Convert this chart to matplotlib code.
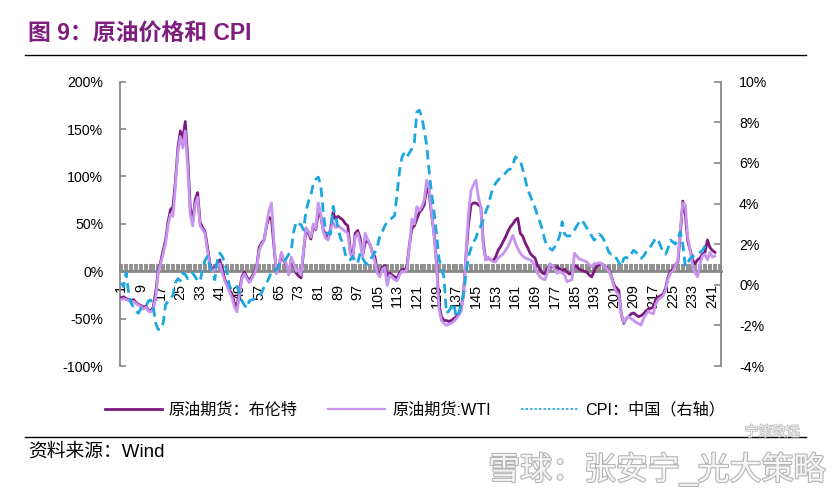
import numpy as np
import matplotlib
matplotlib.use('Agg')
import matplotlib.pyplot as plt
from matplotlib.lines import Line2D
import matplotlib.patheffects as pe

# ---------------- data ----------------
brent = [
    -28, -27, -29, -30, -31, -30, -33, -35, -36, -38,
    -37, -41, -42, -38, -22, 0, 10, 22, 33, 52,
    65, 68, 95, 130, 148, 140, 158, 120, 68, 52,
    75, 83, 52, 46, 42, 26, 8, 2, 4, 8,
    12, 3, -8, -14, -20, -24, -34, -38, -20, -6,
    -1, -6, -10, -6, -1, 5, 25, 30, 33, 48,
    57, 55, 26, -2, 5, 17, 11, 7, -3, 12,
    6, -2, -5, -7, 20, 44, 40, 34, 48, 44,
    62, 58, 44, 38, 35, 45, 62, 55, 58, 56,
    54, 50, 48, 22, 15, 40, 43, 35, 17, 30,
    32, 28, 20, 15, 0, -3, 4, 6, -5, -2,
    -4, -6, -7, -2, 2, 1, 5, 28, 45, 48,
    55, 62, 65, 70, 88, 82, 60, 40, 10, -35,
    -48, -52, -52, -53, -52, -50, -48, -45, -40, -22,
    18, 50, 70, 72, 72, 70, 68, 30, 12, 14,
    12, 11, 15, 22, 26, 31, 36, 42, 47, 50,
    54, 56, 40, 37, 30, 25, 19, 16, 14, 6,
    2, -2, -3, 3, 7, 5, 3, 5, 2, 1,
    2, -1, -3, -2, 6, 5, 2, 1, 0, -1,
    -4, -6, 0, 5, 7, 8, 6, 4, 1, -5,
    -14, -18, -20, -45, -55, -50, -48, -45, -44, -46,
    -48, -47, -45, -42, -40, -39, -38, -30, -27, -26,
    -24, -18, -6, 0, 2, 7, 10, 40, 74, 60,
    32, 22, 12, 8, 12, 14, 18, 20, 33, 25,
    22, 20,
]
wti = [
    -30, -29, -30, -31, -32, -32, -34, -36, -37, -40,
    -38, -42, -43, -40, -28, -2, 8, 18, 30, 48,
    60, 58, 90, 125, 142, 130, 148, 110, 60, 48,
    70, 78, 48, 44, 40, 22, 6, 0, 2, 6,
    8, -2, -10, -16, -22, -28, -38, -43, -25, -8,
    -3, -8, -12, -8, -3, 4, 22, 28, 32, 50,
    64, 72, 30, -2, 6, 20, 12, 8, -4, 15,
    8, 0, 2, -4, 22, 46, 42, 36, 50, 45,
    72, 60, 42, 35, 33, 44, 52, 46, 48, 46,
    44, 42, 40, 18, 15, 36, 40, 30, 15, 40,
    34, 28, 19, 10, -2, -6, 2, 4, -15, -4,
    -6, -9, -10, -4, 0, -1, 2, 26, 55, 50,
    68, 64, 68, 75, 96, 88, 62, 38, 5, -40,
    -52, -55, -57, -56, -55, -53, -50, -47, -42, -25,
    20, 62, 85, 91, 96, 78, 68, 26, 12, 15,
    12, 10, 10, 14, 16, 18, 22, 26, 32, 38,
    30, 24, 19, 16, 14, 13, 12, 10, 4, -2,
    -6, -8, -9, -2, 8, 6, 2, -2, 0, -2,
    -4, -11, -10, -9, 19, 16, 13, 12, 11, 10,
    7, 5, 8, 8, 9, 8, 6, 3, 0, -6,
    -16, -22, -25, -45, -54, -50, -48, -50, -52, -54,
    -55, -57, -50, -46, -42, -44, -45, -35, -30, -28,
    -26, -20, -8, -2, 0, 6, 12, 45, 72, 70,
    36, 22, 5, -2, -6, 8, 16, 18, 12, 20,
    15, 16,
]
cpi = [
    0.1, -0.1, 0.6, -0.4, -0.9, -1.1, -1.3, -1.4, -1.15, -1.1,
    -1.07, -0.8, -0.75, -1.1, -1.9, -2.2, -2.2, -1.9, -1.0, -0.8,
    -0.7, -0.5, 0.1, 0.3, 0.2, 0.57, 0.5, 0.3, 0.4, 0.57,
    0.4, 0.2, 0.16, 0.74, 1.2, 1.4, 0.9, 0.6, 0.25, 1.2,
    1.56, 1.4, 1.1, 0.57, -0.08, -0.25, -0.15, -0.08, -0.4, -0.8,
    -1.0, -1.15, -0.8, -0.74, -0.7, -0.57, -0.5, -0.4, -0.1, 0.1,
    0.33, 0.66, 0.7, 0.74, 1.0, 1.0, 1.07, 1.3, 1.5, 1.7,
    2.6, 3.1, 3.0, 2.96, 2.7, 3.6, 4.1, 4.4, 5.0, 5.2,
    5.3, 4.9, 3.6, 2.6, 2.5, 2.5, 3.86, 3.4, 2.8, 2.3,
    2.05, 1.5, 1.23, 1.23, 1.4, 1.1, 1.07, 1.56, 1.3, 1.1,
    1.0, 1.23, 1.4, 1.6, 1.9, 2.4, 2.6, 2.9, 3.1, 3.2,
    3.3, 3.4, 4.5, 5.6, 6.3, 6.5, 6.3, 6.5, 6.7, 7.0,
    8.5, 8.6, 8.3, 7.6, 6.9, 5.6, 4.5, 3.6, 2.5, 1.3,
    0.8, 0.4, -1.4, -1.3, -1.1, -0.9, -1.6, -1.4, -1.0, -0.5,
    0.6, 1.4, 1.8, 2.1, 2.3, 2.7, 2.9, 3.2, 3.6, 3.9,
    4.4, 4.8, 5.0, 5.15, 5.3, 5.4, 5.5, 5.65, 5.7, 5.9,
    6.3, 6.2, 6.1, 5.7, 5.2, 4.7, 4.4, 4.1, 3.8, 3.4,
    3.1, 2.7, 2.2, 1.9, 1.8, 1.7, 1.87, 2.1, 2.4, 3.1,
    2.5, 2.4, 2.4, 2.5, 2.7, 2.9, 3.1, 3.2, 3.0, 2.8,
    2.6, 2.4, 2.2, 2.3, 2.5, 2.4, 2.2, 1.9, 1.6, 1.5,
    1.5, 1.3, 1.1, 0.9, 1.3, 1.35, 1.3, 1.5, 1.7, 1.6,
    1.5, 1.3, 1.4, 1.6, 1.7, 1.9, 2.1, 2.3, 2.2, 1.9,
    1.6, 1.5, 1.8, 2.2, 2.1, 2.0, 2.3, 2.6, 2.0, 0.9,
    1.1, 1.3, 1.4, 1.45, 1.5, 1.6, 1.7, 1.9, 2.0,
]
x_oil = np.arange(1, len(brent) + 1)
x_cpi = np.arange(1, len(cpi) + 1)
xtick_vals = list(range(1, 242, 8))
left_ticks = [-100, -50, 0, 50, 100, 150, 200]
right_ticks = [-4, -2, 0, 2, 4, 6, 8, 10]

title = "图 9：原油价格和 CPI"
labels = ["原油期货：布伦特", "原油期货:WTI", "CPI：中国（右轴）"]
source = "资料来源：Wind"

c_brent = '#7B1A7C'
c_wti = '#C794EE'
c_cpi = '#1DA7E0'
c_axis = '#888888'

FONT = ['Liberation Sans', 'Noto Sans CJK SC', 'DejaVu Sans']
plt.rcParams['font.family'] = FONT

fig = plt.figure(figsize=(8.34, 4.95), dpi=100)
ax = fig.add_axes([120 / 834, 1 - 366 / 495, 601 / 834, (366 - 81.7) / 495])

ax.plot(x_oil, brent, color=c_brent, lw=2.0, zorder=3)
ax.plot(x_oil, wti, color=c_wti, lw=2.0, zorder=4)
ax.set_xlim(0.5, 244.5)
ax.set_ylim(-100, 200)
ax.set_yticks(left_ticks)
ax.set_yticklabels([f"{v}%" for v in left_ticks], fontsize=10.2)

for s in ['top', 'right']:
    ax.spines[s].set_visible(False)
ax.spines['left'].set_color(c_axis)
ax.spines['left'].set_linewidth(1.3)
ax.spines['bottom'].set_position(('data', 0))
ax.spines['bottom'].set_color(c_axis)
ax.spines['bottom'].set_linewidth(2.0)
ax.spines['bottom'].set_zorder(2)

ax.set_xticks(xtick_vals)
ax.set_xticklabels([str(v) for v in xtick_vals], rotation=90, fontsize=10.4)
ax.set_xticks(np.arange(0.5, 245, 1.0), minor=True)
ax.tick_params(axis='x', which='major', length=0, pad=9)
ax.tick_params(axis='x', which='minor', direction='in', length=5, width=1.3, color=c_axis)
ax.tick_params(axis='y', direction='in', length=4, width=1.2, color=c_axis, pad=12)

ax2 = ax.twinx()
ax2.plot(x_cpi, cpi, color=c_cpi, lw=2.0, ls=(0, (3.4, 2.0)), zorder=5)
ax2.set_ylim(-4, 10)
ax2.set_yticks(right_ticks)
ax2.set_yticklabels([f"{v}%" for v in right_ticks], fontsize=10.2)
for s in ['top', 'left', 'bottom']:
    ax2.spines[s].set_visible(False)
ax2.spines['right'].set_color(c_axis)
ax2.spines['right'].set_linewidth(1.3)
ax2.tick_params(axis='y', direction='in', length=5, width=1.2, color=c_axis, pad=13)

# Title and rules
fig.text(28 / 834, 1 - 33 / 495, title, fontsize=16.5, fontweight='bold',
         color='#7E1F80', ha='left', va='center', family=FONT)
fig.add_artist(Line2D([25 / 834, 806 / 834], [1 - 55 / 495, 1 - 55 / 495],
                      color='black', lw=1.0, transform=fig.transFigure))
fig.add_artist(Line2D([25 / 834, 806 / 834], [1 - 437 / 495, 1 - 437 / 495],
                      color='black', lw=1.0, transform=fig.transFigure))
fig.text(28 / 834, 1 - 452 / 495, source, fontsize=13.5, ha='left', va='center',
         family=FONT)

# Legend
handles = [
    Line2D([], [], color=c_brent, lw=2.0),
    Line2D([], [], color=c_wti, lw=1.6),
    Line2D([], [], color=c_cpi, lw=1.2, ls=(0, (1.5, 1.2))),
]
fig.legend(handles, labels, loc='center', bbox_to_anchor=((102 + 728) / 2 / 834, 1 - 410 / 495),
           ncol=3, frameon=False, handlelength=3.5, handletextpad=0.45,
           columnspacing=1.9, prop={'family': FONT, 'size': 11.6})

# Watermark
wm = fig.text(826 / 834, 1 - 470 / 495, "雪球：张安宁_光大策略", fontsize=23,
              ha='right', va='center', color='#f6f6f6', family=FONT)
wm.set_path_effects([pe.withStroke(linewidth=1.6, foreground='#b4b4b4')])
wm2 = fig.text(800 / 834, 1 - 432 / 495, "宁策致远", fontsize=10,
               ha='right', va='center', color='#f0f0f0', family=FONT)
wm2.set_path_effects([pe.withStroke(linewidth=1.0, foreground='#bbbbbb')])

fig.savefig('out.png', dpi=100)
